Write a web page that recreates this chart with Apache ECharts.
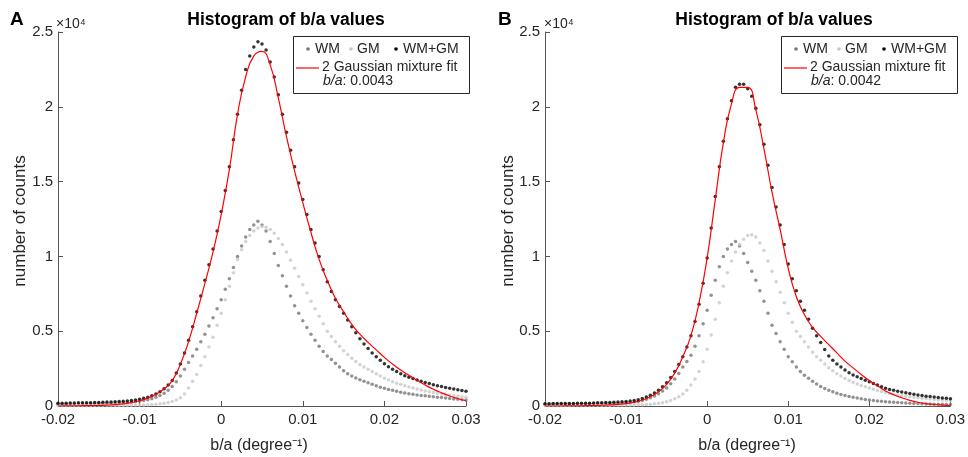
<!DOCTYPE html>
<html>
<head>
<meta charset="utf-8">
<script src="https://cdn.jsdelivr.net/npm/echarts@6/dist/echarts.min.js"></script>
<style>
html, body { margin: 0; padding: 0; background: #fff; }
#main { width: 968px; height: 457px; }
</style>
</head>
<body>
<div id="main"></div>
<script>
// histogram bins of b/a, counts in units of 10^4
var binStart = -0.02;
var binWidth = 0.0005;
var fitStep = 0.001;

var wmA = [0.012,0.012,0.012,0.013,0.013,0.013,0.014,0.014,0.015,0.015,
    0.016,0.017,0.018,0.019,0.020,0.021,0.022,0.024,0.026,0.029,
    0.032,0.036,0.042,0.049,0.058,0.070,0.085,0.105,0.130,0.162,
    0.200,0.245,0.290,0.335,0.380,0.430,0.480,0.535,0.590,0.650,
    0.710,0.780,0.850,0.925,1.000,1.070,1.130,1.180,1.210,1.235,
    1.210,1.170,1.100,1.020,0.940,0.870,0.800,0.735,0.670,0.620,
    0.570,0.525,0.480,0.440,0.400,0.365,0.335,0.310,0.285,0.260,
    0.235,0.215,0.200,0.187,0.175,0.165,0.155,0.145,0.135,0.126,
    0.118,0.111,0.105,0.098,0.092,0.087,0.082,0.078,0.074,0.071,
    0.068,0.065,0.062,0.059,0.056,0.053,0.050,0.047,0.045,0.042,
    0.040];
var gmA = [0.004,0.004,0.004,0.004,0.004,0.004,0.004,0.004,0.004,0.005,
    0.005,0.005,0.005,0.005,0.005,0.005,0.005,0.005,0.005,0.006,
    0.006,0.007,0.008,0.010,0.012,0.015,0.018,0.023,0.030,0.040,
    0.055,0.080,0.120,0.165,0.210,0.270,0.330,0.395,0.460,0.540,
    0.620,0.710,0.800,0.890,0.980,1.045,1.100,1.140,1.170,1.190,
    1.200,1.195,1.180,1.155,1.120,1.080,1.030,0.975,0.920,0.865,
    0.810,0.755,0.700,0.650,0.600,0.550,0.500,0.465,0.430,0.400,
    0.370,0.345,0.320,0.297,0.275,0.260,0.245,0.230,0.215,0.200,
    0.185,0.173,0.162,0.152,0.143,0.135,0.127,0.120,0.113,0.107,
    0.101,0.095,0.090,0.085,0.081,0.077,0.073,0.069,0.065,0.061,
    0.058];
var totA = [0.018,0.018,0.019,0.020,0.020,0.021,0.021,0.022,0.022,0.023,
    0.024,0.025,0.026,0.027,0.028,0.030,0.031,0.033,0.036,0.040,
    0.045,0.051,0.058,0.068,0.080,0.096,0.115,0.140,0.170,0.220,
    0.280,0.355,0.440,0.530,0.630,0.735,0.840,0.945,1.050,1.170,
    1.300,1.440,1.600,1.780,1.950,2.110,2.250,2.340,2.400,2.435,
    2.420,2.380,2.300,2.200,2.080,1.950,1.830,1.710,1.600,1.490,
    1.380,1.280,1.180,1.090,1.000,0.910,0.830,0.765,0.710,0.665,
    0.620,0.575,0.530,0.490,0.450,0.415,0.385,0.355,0.330,0.305,
    0.283,0.263,0.245,0.230,0.216,0.203,0.192,0.183,0.174,0.165,
    0.157,0.150,0.142,0.136,0.130,0.124,0.118,0.113,0.108,0.103,
    0.098];
var fitA = [0.000,0.001,0.001,0.002,0.003,0.004,0.006,0.009,0.014,0.022,
    0.035,0.053,0.078,0.115,0.170,0.280,0.430,0.620,0.820,1.030,
    1.280,1.580,1.950,2.200,2.340,2.370,2.280,2.060,1.800,1.570,
    1.360,1.160,0.980,0.840,0.720,0.630,0.545,0.480,0.425,0.375,
    0.325,0.280,0.240,0.205,0.172,0.140,0.112,0.088,0.067,0.050,
    0.035];

var wmB = [0.012,0.012,0.012,0.012,0.013,0.013,0.013,0.013,0.014,0.014,
    0.014,0.014,0.015,0.015,0.016,0.016,0.017,0.018,0.019,0.020,
    0.021,0.023,0.026,0.030,0.036,0.045,0.055,0.067,0.082,0.100,
    0.120,0.148,0.180,0.218,0.260,0.298,0.340,0.400,0.470,0.550,
    0.640,0.740,0.840,0.930,1.000,1.050,1.080,1.100,1.070,1.020,
    0.960,0.900,0.840,0.770,0.700,0.620,0.540,0.485,0.430,0.380,
    0.330,0.295,0.260,0.230,0.205,0.185,0.165,0.147,0.130,0.117,
    0.105,0.095,0.085,0.077,0.070,0.064,0.058,0.053,0.048,0.044,
    0.040,0.037,0.034,0.031,0.029,0.027,0.025,0.023,0.021,0.020,
    0.018,0.017,0.016,0.015,0.014,0.013,0.012,0.012,0.011,0.010,
    0.010];
var gmB = [0.004,0.004,0.004,0.004,0.004,0.004,0.004,0.005,0.005,0.005,
    0.005,0.005,0.005,0.005,0.005,0.005,0.005,0.006,0.006,0.006,
    0.006,0.006,0.007,0.008,0.009,0.010,0.012,0.015,0.018,0.022,
    0.028,0.037,0.048,0.062,0.080,0.105,0.140,0.180,0.230,0.295,
    0.380,0.475,0.580,0.690,0.800,0.890,0.970,1.030,1.080,1.115,
    1.140,1.145,1.130,1.090,1.040,0.970,0.900,0.830,0.760,0.690,
    0.620,0.560,0.500,0.465,0.430,0.395,0.360,0.330,0.305,0.280,
    0.255,0.235,0.215,0.200,0.185,0.170,0.158,0.147,0.137,0.128,
    0.120,0.112,0.104,0.097,0.090,0.084,0.079,0.074,0.070,0.066,
    0.062,0.058,0.055,0.052,0.049,0.046,0.044,0.042,0.040,0.038,
    0.036];
var totB = [0.015,0.015,0.016,0.016,0.016,0.017,0.017,0.017,0.018,0.018,
    0.019,0.019,0.020,0.021,0.022,0.023,0.024,0.025,0.026,0.028,
    0.030,0.033,0.036,0.042,0.050,0.060,0.072,0.087,0.105,0.128,
    0.155,0.190,0.230,0.278,0.330,0.395,0.470,0.565,0.680,0.820,
    0.990,1.190,1.400,1.600,1.770,1.920,2.040,2.130,2.150,2.150,
    2.120,2.070,1.990,1.880,1.750,1.610,1.460,1.330,1.210,1.080,
    0.950,0.850,0.770,0.700,0.640,0.580,0.520,0.470,0.425,0.378,
    0.335,0.305,0.280,0.260,0.240,0.223,0.208,0.195,0.183,0.172,
    0.162,0.151,0.140,0.129,0.118,0.111,0.105,0.099,0.094,0.089,
    0.084,0.079,0.074,0.070,0.066,0.063,0.060,0.057,0.054,0.051,
    0.048];
var fitB = [0.000,0.000,0.000,0.001,0.001,0.002,0.003,0.005,0.007,0.011,
    0.016,0.025,0.040,0.062,0.095,0.145,0.220,0.330,0.470,0.690,
    0.990,1.380,1.760,2.020,2.130,2.130,1.980,1.720,1.430,1.180,
    0.920,0.730,0.610,0.525,0.465,0.410,0.355,0.300,0.255,0.210,
    0.170,0.135,0.100,0.075,0.055,0.038,0.025,0.016,0.010,0.006,
    0.003];

var panelLetters = ['A', 'B'];
var fitValues = ['0.0043', '0.0042'];
var seriesNames = ['WM', 'GM', 'WM+GM', '2 Gaussian mixture fit'];

var wmColor = '#777777';
var gmColor = '#c8c8c8';
var totColor = '#000000';
var fitColor = '#ff0000';
var font = "'Liberation Sans', Helvetica, Arial, sans-serif";

function pairs(vals, step) {
    return vals.map(function (v, i) {
        return [binStart + i * step, v];
    });
}

var chartDom = document.getElementById('main');
var myChart = echarts.init(chartDom, null, { renderer: 'canvas' });
var option;

var gridLeft = [58, 545];

function xAxisFor(i) {
    return {
        type: 'value',
        gridIndex: i,
        min: -0.02,
        max: 0.03,
        interval: 0.01,
        axisLine: { onZero: false, lineStyle: { color: '#555', width: 1 } },
        axisTick: { inside: true, length: 5, lineStyle: { color: '#555' } },
        axisLabel: {
            color: '#262626',
            fontSize: 15,
            fontFamily: font,
            margin: 6,
            formatter: function (v) { return String(Math.round(v * 100) / 100); }
        },
        splitLine: { show: false }
    };
}

function yAxisFor(i) {
    return {
        type: 'value',
        gridIndex: i,
        min: 0,
        max: 2.5,
        interval: 0.5,
        axisLine: { show: true, onZero: false, lineStyle: { color: '#555', width: 1 } },
        axisTick: { show: true, inside: true, length: 5, lineStyle: { color: '#555' } },
        axisLabel: { color: '#262626', fontSize: 15, fontFamily: font, margin: 5 },
        splitLine: { show: false }
    };
}

function seriesFor(i, wm, gm, tot, fit) {
    return [
        { name: seriesNames[0], type: 'scatter', xAxisIndex: i, yAxisIndex: i, symbolSize: 3.5,
          itemStyle: { color: wmColor }, data: pairs(wm, binWidth) },
        { name: seriesNames[1], type: 'scatter', xAxisIndex: i, yAxisIndex: i, symbolSize: 3.5,
          itemStyle: { color: gmColor }, data: pairs(gm, binWidth) },
        { name: seriesNames[2], type: 'scatter', xAxisIndex: i, yAxisIndex: i, symbolSize: 3.5,
          itemStyle: { color: totColor }, data: pairs(tot, binWidth) },
        { name: seriesNames[3], type: 'line', xAxisIndex: i, yAxisIndex: i, smooth: true,
          showSymbol: false, lineStyle: { color: fitColor, width: 1.2 }, data: pairs(fit, fitStep) }
    ];
}

function panelGraphics(i) {
    var dx = i * 488;
    var g = [
        { type: 'text', x: 10 + dx, y: 20,
          style: { text: panelLetters[i], font: 'bold 19px ' + font, fill: '#000', verticalAlign: 'middle' } },
        { type: 'text', x: 286 + dx, y: 20,
          style: { text: 'Histogram of b/a values', font: 'bold 17.5px ' + font, fill: '#000', align: 'center', verticalAlign: 'middle' } },
        { type: 'text', x: 56 + dx, y: 24,
          style: { text: '×10⁴', font: '14px ' + font, fill: '#262626', verticalAlign: 'middle' } },
        { type: 'text', x: 20 + dx, y: 221, rotation: Math.PI / 2,
          style: { text: 'number of counts', font: '17px ' + font, fill: '#262626', align: 'center', verticalAlign: 'middle' } },
        { type: 'text', x: 259 + dx, y: 446,
          style: { text: 'b/a (degree⁻¹)', font: '16px ' + font, fill: '#262626', align: 'center', verticalAlign: 'middle' } },
        // legend box
        { type: 'rect', shape: { x: 293.5 + dx, y: 36.5, width: 176, height: 57 },
          style: { fill: '#fff', stroke: '#262626', lineWidth: 1 } },
        { type: 'circle', shape: { cx: 308 + dx, cy: 49, r: 1.8 }, style: { fill: wmColor } },
        { type: 'text', x: 315 + dx, y: 49,
          style: { text: seriesNames[0], font: '14px ' + font, fill: '#262626', verticalAlign: 'middle' } },
        { type: 'circle', shape: { cx: 351 + dx, cy: 49, r: 1.8 }, style: { fill: gmColor } },
        { type: 'text', x: 357 + dx, y: 49,
          style: { text: seriesNames[1], font: '14px ' + font, fill: '#262626', verticalAlign: 'middle' } },
        { type: 'circle', shape: { cx: 396 + dx, cy: 49, r: 1.8 }, style: { fill: totColor } },
        { type: 'text', x: 403 + dx, y: 49,
          style: { text: seriesNames[2], font: '14px ' + font, fill: '#262626', verticalAlign: 'middle' } },
        { type: 'line', shape: { x1: 296 + dx, y1: 68, x2: 319 + dx, y2: 68 },
          style: { stroke: fitColor, lineWidth: 1.2 } },
        { type: 'text', x: 322 + dx, y: 67,
          style: { text: seriesNames[3], font: '14px ' + font, fill: '#262626', verticalAlign: 'middle' } },
        { type: 'text', x: 323 + dx, y: 81,
          style: {
              text: '{i|b/a}{n|: ' + fitValues[i] + '}',
              fill: '#262626', verticalAlign: 'middle',
              rich: {
                  i: { fontStyle: 'italic', fontSize: 14, fontFamily: font, fill: '#262626' },
                  n: { fontSize: 14, fontFamily: font, fill: '#262626' }
              }
          } }
    ];
    return g;
}

option = {
    animation: false,
    backgroundColor: '#fff',
    grid: [
        { left: gridLeft[0], top: 32, width: 408, height: 374 },
        { left: gridLeft[1], top: 32, width: 408, height: 374 }
    ],
    xAxis: [xAxisFor(0), xAxisFor(1)],
    yAxis: [yAxisFor(0), yAxisFor(1)],
    series: seriesFor(0, wmA, gmA, totA, fitA).concat(seriesFor(1, wmB, gmB, totB, fitB)),
    graphic: panelGraphics(0).concat(panelGraphics(1))
};

option && myChart.setOption(option);
</script>
</body>
</html>
